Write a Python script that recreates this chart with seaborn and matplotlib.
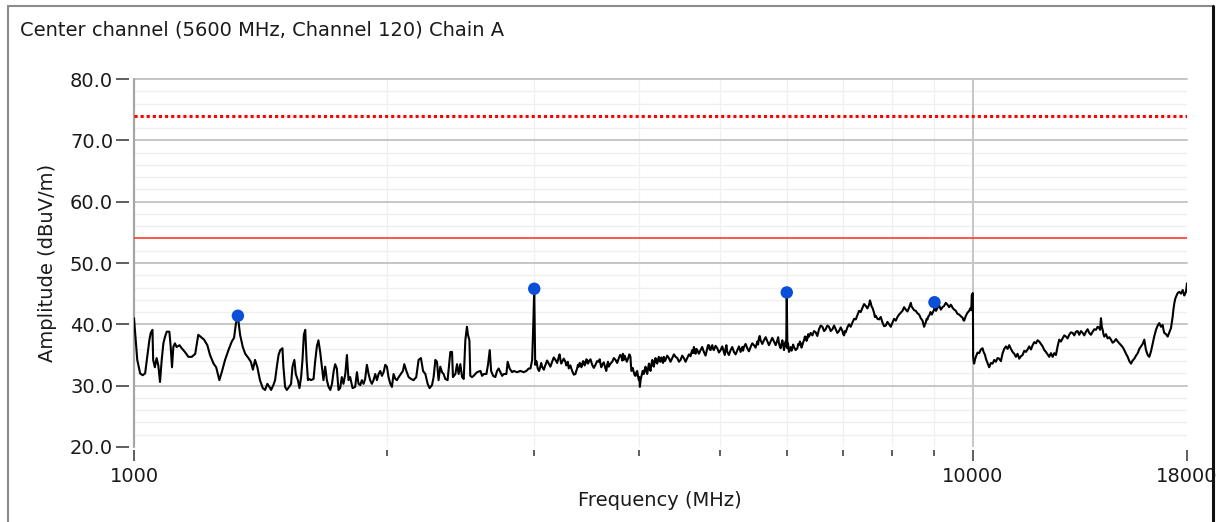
import matplotlib
matplotlib.use("Agg")
import matplotlib.pyplot as plt
import seaborn as sns
import pandas as pd
from matplotlib.ticker import FixedLocator, FixedFormatter, NullFormatter, StrMethodFormatter
from matplotlib.lines import Line2D

# ---------------- data ----------------
title_text = "Center channel (5600 MHz, Channel 120) Chain A"
x_label = "Frequency (MHz)"
y_label = "Amplitude (dBuV/m)"

# trace, split into frequency segments (MHz / dBuV/m)
freq_a = [
    1000, 1003, 1009, 1017, 1024, 1031, 1036, 1043, 1047, 1052, 1054, 1059, 1064, 1069, 1074, 1079,
    1084, 1089, 1094, 1102, 1106, 1110, 1114, 1119, 1124, 1133, 1140, 1150, 1161, 1172, 1183, 1193,
    1205, 1212, 1223, 1232, 1244, 1253, 1264, 1273, 1284, 1296, 1308, 1316, 1323, 1330, 1338, 1348,
    1357, 1369, 1378, 1386, 1394, 1403, 1413, 1424, 1433, 1442, 1453,
]
amp_a = [
    41.0, 38.8, 34.2, 32.0, 31.7, 32.0, 34.2, 37.4, 38.6, 39.1, 34.2, 33.0, 34.5, 33.3, 30.6, 34.2,
    36.9, 38.0, 38.8, 38.8, 36.3, 33.0, 36.3, 36.9, 36.3, 36.6, 36.1, 35.5, 34.7, 34.7, 35.2, 38.3,
    37.8, 37.5, 36.6, 35.0, 33.6, 33.0, 30.9, 32.3, 34.2, 35.8, 37.2, 37.8, 40.2, 41.3, 38.3, 36.3,
    35.2, 34.5, 33.9, 32.6, 34.2, 33.0, 30.9, 29.6, 29.3, 30.3, 29.6,
]

freq_b = [
    1457, 1466, 1473, 1480, 1487, 1494, 1503, 1507, 1514, 1521, 1531, 1539, 1545, 1553, 1559, 1568,
    1575, 1582, 1588, 1594, 1600, 1606, 1612, 1617, 1626, 1637, 1644, 1652, 1659, 1667, 1675, 1682,
    1690, 1698, 1706, 1714, 1722, 1730, 1737, 1745, 1753, 1761, 1769, 1777, 1786, 1794, 1802, 1810,
    1822, 1835, 1844, 1852, 1861, 1869, 1878, 1886, 1895, 1904, 1912, 1921, 1930, 1939, 1948, 1957,
    1966, 1975, 1984, 1993, 2002, 2011, 2021, 2030, 2039, 2049, 2058, 2068,
]
amp_b = [
    29.3, 30.1, 30.9, 33.1, 35.0, 35.8, 36.1, 33.1, 29.8, 29.3, 29.8, 30.3, 33.1, 34.2, 31.9, 30.9,
    29.6, 31.4, 34.2, 38.3, 39.1, 34.2, 30.9, 31.1, 30.9, 31.1, 33.9, 36.4, 37.4, 35.5, 33.1, 30.9,
    33.1, 30.9, 29.8, 29.3, 30.3, 32.4, 33.5, 32.8, 29.3, 29.6, 31.4, 30.3, 31.9, 35.0, 30.9, 31.4,
    29.6, 29.8, 32.2, 30.3, 30.1, 30.9, 30.3, 31.1, 33.4, 31.9, 30.9, 30.3, 30.9, 31.9, 30.9, 31.9,
    32.4, 31.6, 32.2, 33.4, 33.1, 31.4, 30.3, 29.8, 31.9, 31.1, 30.9, 31.4,
]

freq_c = [
    2092, 2100, 2112, 2125, 2139, 2154, 2170, 2184, 2198, 2211,
    2225, 2239, 2251, 2266, 2276, 2287, 2297, 2307, 2318, 2329,
    2339, 2350, 2365, 2383, 2394, 2400, 2416, 2427, 2438, 2449,
    2461, 2472, 2483, 2494, 2501, 2511, 2517, 2529, 2540, 2564,
    2588, 2600, 2612, 2631, 2643, 2655, 2665, 2680, 2696, 2709,
    2721, 2734, 2747, 2759, 2779, 2789, 2804, 2823, 2835, 2862,
    2888, 2914, 2936, 2955, 2969, 2983, 2992, 3000,
]
amp_c = [
    32.4, 33.5, 32.4, 31.4, 31.1, 30.9, 31.4, 34.2, 34.5, 32.4,
    31.9, 30.3, 29.6, 30.1, 31.4, 34.2, 33.9, 30.9, 33.1, 32.2,
    31.9, 31.1, 30.9, 35.5, 35.5, 31.4, 31.9, 33.5, 31.9, 33.5,
    31.4, 31.1, 37.4, 39.6, 38.3, 37.4, 31.6, 31.4, 31.6, 32.2,
    32.4, 31.6, 31.9, 31.9, 33.5, 35.8, 32.4, 31.6, 31.4, 32.4,
    32.8, 32.2, 31.6, 31.9, 31.9, 33.9, 32.8, 32.2, 32.4, 32.2,
    32.4, 32.2, 32.4, 32.8, 32.8, 34.2, 39.8, 45.8,
]

freq_d = [
    3008, 3018, 3029, 3040, 3051, 3058, 3065, 3080, 3094, 3108,
    3122, 3136, 3151, 3165, 3180, 3195, 3209, 3216, 3224, 3231,
    3239, 3253, 3268, 3275, 3283, 3290, 3298, 3313, 3329, 3344,
    3359, 3367, 3375, 3382, 3390, 3398, 3406, 3414, 3422, 3430,
    3437, 3445, 3453, 3461, 3469, 3477, 3485, 3501, 3517, 3533,
    3549, 3565, 3581, 3590, 3598, 3606, 3615, 3631, 3648, 3656,
    3665, 3673, 3681, 3698, 3716, 3733, 3750, 3767, 3784, 3798,
    3812, 3819, 3826, 3831, 3836, 3845, 3854, 3868, 3883, 3895,
    3907, 3912, 3918, 3930, 3943, 3952, 3962, 3971, 3980, 3989,
    3998, 4003, 4009, 4018, 4027, 4040, 4053, 4062, 4072, 4081,
    4091, 4100, 4110, 4119, 4128, 4138, 4148, 4157, 4166, 4175,
    4185, 4195, 4205, 4214, 4224, 4233, 4243, 4253, 4263, 4272,
    4282, 4292, 4302, 4321, 4341, 4361, 4382, 4402, 4422,
]
amp_d = [
    33.4, 34.0, 32.8, 32.4, 33.1, 33.7, 33.1, 32.6, 33.4, 34.1,
    33.6, 33.1, 33.9, 34.6, 34.2, 33.7, 34.7, 35.1, 34.2, 33.6,
    33.9, 34.4, 33.9, 33.3, 33.4, 33.9, 32.8, 33.3, 32.4, 31.8,
    31.9, 32.4, 32.8, 33.4, 33.1, 33.7, 33.6, 33.0, 33.4, 34.0,
    33.9, 33.3, 33.6, 34.3, 34.2, 33.6, 33.9, 34.3, 33.4, 32.9,
    33.4, 34.0, 33.9, 34.3, 33.6, 33.0, 33.4, 33.8, 32.8, 32.4,
    33.4, 33.9, 33.1, 33.6, 33.9, 34.5, 34.2, 33.7, 34.5, 35.0,
    34.7, 34.1, 35.2, 34.6, 34.2, 34.9, 34.5, 33.9, 34.5, 35.1,
    34.7, 33.3, 32.4, 32.9, 32.2, 31.7, 31.6, 32.2, 32.4, 31.5,
    30.9, 31.4, 29.8, 31.0, 31.6, 32.4, 31.9, 32.6, 33.1, 32.3,
    31.9, 32.8, 33.6, 32.8, 32.4, 33.5, 34.2, 33.3, 33.1, 34.0,
    34.5, 33.8, 33.6, 34.3, 34.7, 34.0, 33.9, 34.6, 34.2, 33.7,
    34.7, 34.0, 34.2, 34.9, 34.5, 33.9, 34.5, 35.1, 34.7,
]

freq_e = [
    4443, 4463, 4483, 4503, 4524, 4545, 4566, 4587, 4608, 4618,
    4629, 4640, 4650, 4660, 4671, 4682, 4693, 4714, 4736, 4757,
    4779, 4801, 4824, 4834, 4845, 4856, 4868, 4880, 4891, 4901,
    4912, 4935, 4958, 4981, 5004, 5026, 5049, 5061, 5073, 5084,
    5096, 5119, 5143, 5166, 5190, 5214, 5239, 5262, 5286, 5298,
    5311, 5322, 5334, 5359, 5384, 5408, 5433, 5458, 5483, 5508,
    5534, 5546, 5558, 5571, 5585, 5610, 5636, 5662, 5689, 5714,
    5740, 5766, 5793, 5820, 5847, 5860, 5873, 5886, 5900, 5914,
    5928, 5941, 5955, 5968, 5982, 5991, 6000, 6010, 6020, 6028,
    6037, 6051, 6065, 6079, 6093, 6106, 6120, 6148, 6177, 6191,
    6205, 6220, 6234, 6248, 6263, 6277, 6291, 6305, 6320, 6335,
    6350, 6364, 6378,
]
amp_e = [
    34.5, 33.9, 34.2, 34.9, 34.5, 33.9, 34.5, 35.1, 34.8, 35.4,
    35.8, 35.3, 36.3, 35.7, 35.2, 36.0, 35.8, 35.2, 35.8, 36.3,
    35.5, 34.9, 36.1, 36.6, 36.6, 35.9, 35.8, 36.4, 36.6, 36.0,
    35.8, 36.5, 36.1, 35.4, 35.8, 36.4, 35.5, 35.0, 36.1, 36.6,
    35.5, 35.0, 35.8, 36.3, 35.5, 35.1, 35.8, 36.4, 35.5, 35.9,
    36.3, 35.7, 36.3, 36.8, 36.1, 35.6, 36.3, 36.9, 36.6, 36.2,
    37.2, 36.7, 37.7, 38.1, 37.4, 36.8, 37.4, 37.9, 37.2, 36.6,
    37.2, 37.8, 37.2, 36.6, 37.4, 37.9, 36.9, 36.4, 36.1, 36.8,
    37.4, 36.6, 35.8, 36.6, 37.2, 36.4, 45.1, 36.1, 36.9, 36.2,
    35.5, 36.0, 36.3, 35.7, 36.1, 36.7, 36.3, 35.8, 36.1, 36.8,
    36.6, 37.2, 36.9, 36.2, 36.6, 37.1, 37.4, 38.0, 38.0, 37.3,
    37.7, 38.4, 38.0,
]

freq_f = [
    6407, 6437, 6466, 6496, 6525, 6555, 6586, 6617, 6647, 6677,
    6707, 6738, 6769, 6801, 6832, 6863, 6894, 6925, 6958, 6991,
    7006, 7022, 7038, 7054, 7086, 7118, 7151, 7185, 7218, 7251,
    7284, 7317, 7351, 7385, 7419, 7453, 7487, 7521, 7538, 7556,
    7573, 7591, 7607, 7624, 7642, 7660, 7695, 7730, 7766, 7803,
    7838, 7874, 7910, 7946, 7983, 8020, 8056, 8093, 8130, 8167,
    8205, 8243, 8280, 8318, 8356, 8394, 8414, 8434, 8453, 8473,
    8511, 8550, 8589, 8628, 8668, 8709, 8728, 8747, 8767, 8788,
    8808, 8829, 8849, 8869, 8902, 8935, 8963, 8991, 9000, 9038,
    9076, 9117, 9158, 9200, 9241, 9284, 9328, 9370, 9413, 9435,
    9457, 9500, 9544, 9587, 9631, 9676, 9721, 9742, 9764, 9787,
    9810, 9854, 9899, 9922, 9945, 9958, 9970, 10000,
]
amp_f = [
    38.6, 38.2, 38.9, 38.7, 38.1, 39.2, 39.8, 39.6, 38.9, 39.2,
    39.8, 39.6, 38.9, 39.2, 39.8, 39.2, 38.6, 38.9, 39.5, 38.9,
    38.4, 38.2, 38.9, 38.7, 39.5, 40.0, 39.6, 40.3, 40.9, 40.8,
    41.5, 42.2, 42.0, 42.7, 43.3, 43.0, 42.6, 43.2, 43.9, 43.5,
    42.9, 42.7, 42.3, 41.9, 41.2, 41.4, 40.9, 40.8, 41.2, 40.3,
    39.7, 39.8, 40.4, 40.0, 39.6, 40.3, 40.9, 40.6, 41.2, 41.6,
    41.9, 42.2, 42.8, 42.4, 42.1, 42.7, 43.1, 43.5, 42.9, 42.7,
    42.3, 42.2, 41.8, 41.6, 41.0, 40.6, 40.1, 39.6, 40.0, 40.3,
    40.9, 40.8, 41.3, 41.4, 42.0, 41.6, 42.0, 42.4, 43.5, 42.2,
    42.7, 43.1, 42.4, 42.8, 43.0, 43.5, 43.2, 42.8, 43.2, 43.0,
    42.7, 42.4, 42.2, 41.7, 41.6, 41.3, 41.1, 40.7, 40.6, 41.0,
    41.4, 41.9, 42.2, 42.5, 42.7, 42.3, 44.8, 45.1,
]

freq_g = [
    10008, 10022, 10036, 10060, 10083, 10129, 10175, 10222, 10270, 10292,
    10315, 10340, 10364, 10411, 10458, 10507, 10557, 10605, 10653, 10701,
    10750, 10800, 10851, 10900, 10950, 11000, 11049, 11101, 11153, 11203,
    11254, 11305, 11357, 11410, 11463, 11515, 11568, 11620, 11673, 11728,
    11783, 11836, 11890, 11944, 11998, 12054, 12111, 12166, 12221, 12276,
    12332, 12390, 12448, 12504, 12561, 12618, 12675, 12734, 12794, 12852,
    12911, 12969, 13028, 13089, 13150, 13210, 13270, 13330, 13391, 13454,
    13517, 13578, 13640, 13702, 13764, 13828, 13893, 13956, 14020, 14083,
    14147, 14180, 14214, 14247, 14281, 14312, 14344, 14411, 14478, 14544,
    14610, 14676, 14743, 14812, 14882, 14949, 15017, 15085, 15154, 15225,
    15296, 15365, 15435, 15505, 15576, 15649, 15722, 15793, 15865, 15937,
    16010, 16047, 16085, 16158, 16231, 16307, 16383, 16457, 16532, 16607,
    16682, 16760, 16838, 16875, 16912, 16991, 17071, 17149, 17227, 17267,
    17307, 17345, 17383, 17424, 17465, 17544, 17623, 17706, 17790, 17828,
    17866, 17908, 17950, 18000,
]
amp_g = [
    34.7, 33.9, 33.6, 34.3, 34.7, 35.4, 35.3, 35.9, 36.1, 35.6,
    35.3, 35.0, 34.4, 33.7, 33.0, 33.7, 33.6, 34.2, 33.9, 34.5,
    34.4, 34.0, 35.3, 36.0, 36.4, 36.0, 36.6, 36.0, 35.5, 35.2,
    34.7, 35.2, 34.4, 34.8, 35.0, 35.7, 35.5, 35.9, 36.4, 35.9,
    36.6, 37.1, 36.9, 37.4, 37.2, 36.8, 36.4, 35.8, 35.5, 35.1,
    34.7, 35.3, 34.7, 35.3, 35.0, 36.4, 37.5, 37.2, 37.7, 38.2,
    38.0, 37.7, 38.3, 38.7, 38.6, 38.2, 38.8, 38.9, 38.3, 38.9,
    38.6, 38.2, 38.8, 39.2, 38.6, 38.3, 38.8, 39.2, 39.1, 39.6,
    39.4, 39.1, 41.0, 39.6, 39.1, 38.4, 38.0, 38.4, 37.7, 37.9,
    37.5, 37.0, 37.2, 37.6, 37.2, 36.9, 36.6, 36.3, 35.8, 35.2,
    34.7, 34.0, 33.6, 34.1, 34.4, 34.9, 35.3, 36.0, 36.4, 36.8,
    37.5, 36.6, 35.8, 35.0, 34.7, 35.6, 36.9, 38.1, 39.1, 39.8,
    40.2, 39.6, 39.9, 39.1, 38.6, 38.4, 38.0, 38.7, 39.4, 40.3,
    41.3, 42.5, 43.4, 44.1, 44.5, 45.1, 45.3, 45.0, 45.6, 45.1,
    44.7, 45.0, 45.3, 46.7,
]

peak_freq_mhz = [1330, 3000, 6000, 9000]
peak_amp_dbuv = [41.4, 45.8, 45.2, 43.6]

limit_peak_dbuv = 74.0
limit_avg_dbuv = 54.0

x_major_ticks = [1000, 10000, 18000]
x_major_labels = ["1000", "10000", "18000"]
x_minor_ticks = [2000, 3000, 4000, 5000, 6000, 7000, 8000, 9000]
y_major_ticks = [20, 30, 40, 50, 60, 70, 80]
y_minor_ticks = [22, 24, 26, 28, 32, 34, 36, 38, 42, 44, 46, 48,
                 52, 54, 56, 58, 62, 64, 66, 68, 72, 74, 76, 78]

freq_mhz = freq_a + freq_b + freq_c + freq_d + freq_e + freq_f + freq_g
amp_dbuv = amp_a + amp_b + amp_c + amp_d + amp_e + amp_f + amp_g

# ---------------- figure ----------------
sns.set_theme(style="white")
plt.rcParams["font.family"] = ["DejaVu Sans"]
plt.rcParams["text.color"] = "#1a1a1a"

W, H = 1217, 522
fig = plt.figure(figsize=(W / 100, H / 100), dpi=100)
fig.patch.set_facecolor("white")

left, right, top, bottom = 134, 1187, 79, 447
ax = fig.add_axes([left / W, 1 - bottom / H, (right - left) / W, (bottom - top) / H])
ax.set_facecolor("white")

# grid lines (drawn manually to match the look)
for y in y_minor_ticks:
    ax.axhline(y, color="#efefef", lw=0.9, zorder=0)
for y in y_major_ticks[1:]:
    ax.axhline(y, color="#c6c6c6", lw=1.4, zorder=0.5, clip_on=False)
for x in x_minor_ticks:
    ax.axvline(x, color="#f0f0f0", lw=0.9, zorder=0)
ax.axvline(10000, color="#c6c6c6", lw=1.4, zorder=0.5)
ax.axvline(1000, color="#a6a6a6", lw=1.6, zorder=0.6, clip_on=False)

# limit lines
ax.axhline(limit_peak_dbuv, color="#ff0000", lw=2.2, linestyle=(0, (1, 1)),
           dash_capstyle="butt", zorder=2)
ax.axhline(limit_avg_dbuv, color="#ff3b30", lw=1.2, zorder=2)

# trace
df = pd.DataFrame({"freq": freq_mhz, "amp": amp_dbuv})
sns.lineplot(data=df, x="freq", y="amp", ax=ax, color="black", lw=1.5,
             sort=False, estimator=None, zorder=3)

# peak markers
pk = pd.DataFrame({"freq": peak_freq_mhz, "amp": peak_amp_dbuv})
sns.scatterplot(data=pk, x="freq", y="amp", ax=ax, color="#0a4fd8", s=80,
                edgecolor="none", zorder=4)

ax.set_xscale("log")
ax.set_xlim(1000, 18000)
ax.set_ylim(20, 80)

for s in ax.spines.values():
    s.set_visible(False)
ax.spines["left"].set_position(("outward", 3.6))
ax.spines["bottom"].set_position(("outward", 2.4))

ax.xaxis.set_major_locator(FixedLocator(x_major_ticks))
ax.xaxis.set_major_formatter(FixedFormatter(x_major_labels))
ax.xaxis.set_minor_locator(FixedLocator(x_minor_ticks))
ax.xaxis.set_minor_formatter(NullFormatter())
ax.yaxis.set_major_locator(FixedLocator(y_major_ticks))
ax.yaxis.set_major_formatter(StrMethodFormatter("{x:.1f}"))
ax.yaxis.set_minor_locator(FixedLocator([]))

ax.tick_params(axis="x", which="major", direction="out", length=8, width=1.1,
               color="#333333", pad=4, labelsize=14, labelcolor="#1a1a1a",
               bottom=True)
ax.tick_params(axis="x", which="minor", direction="out", length=4.3, width=1.1,
               color="#333333", bottom=True)
ax.tick_params(axis="y", which="major", direction="out", length=9.4, width=1.1,
               color="#333333", pad=2, labelsize=14, labelcolor="#1a1a1a", left=True)

ax.set_xlabel(x_label, fontsize=14, color="#1a1a1a")
ax.set_ylabel(y_label, fontsize=14, color="#1a1a1a")
ax.xaxis.label.set_va("center")
ax.yaxis.label.set_va("center")
ax.xaxis.set_label_coords((660 - left) / (right - left), (bottom - 501) / (bottom - top))
ax.yaxis.set_label_coords((47 - left) / (right - left), (bottom - 263) / (bottom - top))

fig.text(20 / W, 1 - 30 / H, title_text, fontsize=14, ha="left", va="center",
         color="#1a1a1a")

# outer frame of the panel
x0, x1, y0 = 8 / W, 1212.5 / W, 1 - 5.5 / H
fig.add_artist(Line2D([x0, x0], [0, y0], transform=fig.transFigure, color="#8c8c8c", lw=1.5))
fig.add_artist(Line2D([x0, x1], [y0, y0], transform=fig.transFigure, color="#8c8c8c", lw=1.5))
fig.add_artist(Line2D([x1, x1], [0, y0], transform=fig.transFigure, color="#111111", lw=2.2))

fig.savefig("out.png", dpi=100, facecolor="white")
